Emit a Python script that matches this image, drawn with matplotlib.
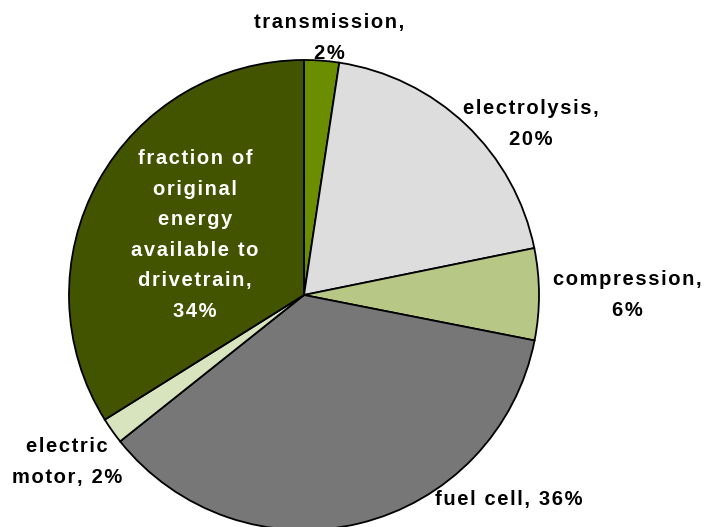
import matplotlib
matplotlib.use("Agg")
import matplotlib.pyplot as plt

# slices, clockwise from 12 o'clock
names = ["transmission", "electrolysis", "compression", "fuel cell",
         "electric motor", "fraction of original energy available to drivetrain"]
shares = [2.4, 19.4, 6.3, 36.2, 1.8, 33.9]
labels = ["transmission,\n2%", "electrolysis,\n20%", "compression,\n6%",
          "fuel cell, 36%", "electric\nmotor, 2%",
          "fraction of\noriginal\nenergy\navailable to\ndrivetrain,\n34%"]
colors = ["#6B8E00", "#DDDDDD", "#B7C886", "#777777", "#D7E4BD", "#435400"]

W, H = 709, 527
fig = plt.figure(figsize=(W / 100, H / 100), dpi=100)
ax = fig.add_axes([0, 0, 1, 1])

ax.pie(shares, colors=colors, startangle=90, counterclock=False,
       center=(304, H - 295), radius=235, frame=True,
       wedgeprops=dict(edgecolor="black", linewidth=1.3))
ax.set_xlim(0, W)
ax.set_ylim(0, H)
ax.set_aspect("equal")
ax.axis("off")


def spaced(s):
    # wide letter spacing like the original, hair space between letters
    return "\n".join("\u200a".join(line) for line in s.split("\n"))


font = dict(family="Liberation Sans", weight="bold", fontsize=14.5,
            ha="center", va="center", linespacing=1.77)
# label spots in pixels from top-left
spots = [(329, 38), (531, 124), (627, 295), (509, 499), (67, 462), (195, 235)]
for i, (txt, (x, y)) in enumerate(zip(labels, spots)):
    c = "white" if i == 5 else "black"
    ax.text(x, H - y, spaced(txt), color=c, **font)

fig.savefig("out.png", dpi=100)
